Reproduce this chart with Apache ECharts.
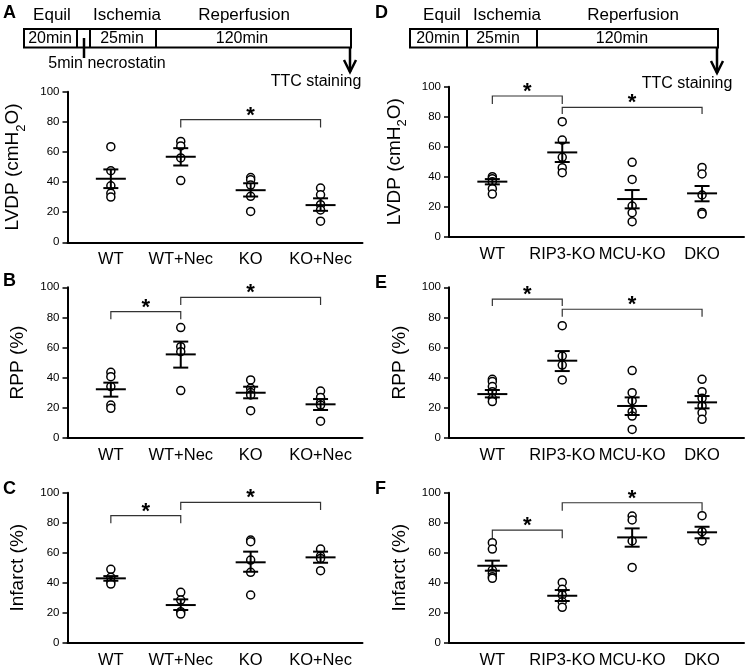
<!DOCTYPE html>
<html>
<head>
<meta charset="utf-8">
<script src="https://cdn.jsdelivr.net/npm/echarts@6/dist/echarts.min.js"></script>
<style>html,body{margin:0;padding:0;background:#fff;}#c{width:750px;height:671px;}</style>
</head>
<body>
<div id="c"></div>
<script>
// ---------- DATA ----------
const catsLeft = ['WT', 'WT+Nec', 'KO', 'KO+Nec'];
const catsRight = ['WT', 'RIP3-KO', 'MCU-KO', 'DKO'];
const yTicks = [0, 20, 40, 60, 80, 100];

// Panel A: LVDP (left)
const lvdpLeftPoints = [[63.5, 47.5, 37.5, 32.5, 30], [67, 64, 56, 41], [43, 41.5, 38, 30.5, 20.5], [36, 31.5, 25, 21.5, 14]];
const lvdpLeftMean = [42.2, 56.8, 34.6, 24.7];
const lvdpLeftHi = [48.4, 62.5, 39.2, 29.2];
const lvdpLeftLo = [36, 51, 30.4, 20.9];
const lvdpLeftBrackets = [[1, 3, 81.5, 76.3]];

// Panel B: RPP (left)
const rppLeftPoints = [[43.5, 40.6, 34, 21.7, 19.5], [73.2, 60.5, 57.2, 31.3], [38.4, 32.8, 30, 28.4, 18], [31, 26.8, 23.3, 21.7, 11]];
const rppLeftMean = [32.2, 55.4, 29.9, 22.2];
const rppLeftHi = [36.6, 63.9, 33.9, 25.7];
const rppLeftLo = [27.3, 46.6, 26.2, 18.4];
const rppLeftBrackets = [[0, 1, 83.8, 78.7], [1, 3, 93.3, 88.2]];

// Panel C: Infarct (left)
const infLeftPoints = [[48.9, 43.6, 40.7, 39.1], [33.6, 28.4, 20.7, 19.1], [68.4, 67.3, 55.1, 46.9, 31.8], [62.4, 57.8, 56.2, 48]];
const infLeftMean = [42.9, 25.1, 53.6, 56.9];
const infLeftHi = [44.4, 28.9, 60.7, 60.7];
const infLeftLo = [41.3, 21.8, 47.3, 53.3];
const infLeftBrackets = [[0, 1, 84.7, 79.6], [1, 3, 93.6, 88.4]];

// Panel D: LVDP (right)
const lvdpRightPoints = [[40, 38.7, 36.7, 32, 28.4], [76.7, 64.4, 52.9, 46, 42.7], [49.6, 38.2, 20.4, 16, 10], [46.2, 41.8, 27.8, 16.2, 15.1]];
const lvdpRightMean = [36.7, 56.2, 25.1, 28.9];
const lvdpRightHi = [38.4, 62.7, 31.1, 33.8];
const lvdpRightLo = [34.9, 49.8, 18.9, 23.6];
const lvdpRightBrackets = [[0, 1, 93.8, 88.4], [1, 3, 86.2, 81.8]];

// Panel E: RPP (right)
const rppRightPoints = [[38.8, 37.3, 34, 30.6, 26.2, 24], [74.5, 54.3, 48.3, 38.4], [44.6, 29.9, 24.6, 17.3, 14.4, 5.5], [38.8, 30.6, 26.2, 21.1, 16.6, 12.2]];
const rppRightMean = [29, 51.2, 21.1, 23.5];
const rppRightHi = [31.7, 57.6, 26.8, 27.7];
const rppRightLo = [26.8, 44.3, 15.1, 19.5];
const rppRightBrackets = [[0, 1, 92.2, 87.6], [1, 3, 85.4, 80.5]];

// Panel F: Infarct (right)
const infRightPoints = [[66.7, 62.4, 48.4, 46.2, 44, 42.9], [40.2, 35.6, 31.8, 27.3, 23.6], [84.4, 81.8, 67.8, 50.2], [84.7, 74, 67.8]];
const infRightMean = [51.3, 31.3, 70.2, 73.6];
const infRightHi = [54.7, 35.1, 76.2, 77.3];
const infRightLo = [48, 27.8, 64, 69.6];
const infRightBrackets = [[0, 1, 75.1, 69.6], [1, 3, 93.3, 88]];

// ---------- CHART ----------
const FONT = '"Liberation Sans", Arial, sans-serif';
const grids = [], xAxes = [], yAxes = [], series = [];

function addPanel(pos, cats, yName, points, mean, hi, lo, brackets) {
  const gi = grids.length;
  grids.push({ left: pos.left, top: pos.top, width: pos.width, height: pos.height, containLabel: false });
  xAxes.push({
    gridIndex: gi, type: 'value', min: -0.62, max: 3.6,
    axisLine: { show: true, onZero: false, lineStyle: { color: '#000', width: 2 } },
    axisTick: { show: false }, splitLine: { show: false },
    axisLabel: { customValues: [0, 1, 2, 3], formatter: v => cats[Math.round(v)], fontSize: 16.5, color: '#000', margin: 9, fontFamily: FONT }
  });
  yAxes.push({
    gridIndex: gi, type: 'value', min: yTicks[0], max: yTicks[yTicks.length - 1], interval: 20,
    axisLine: { show: true, onZero: false, lineStyle: { color: '#000', width: 2 } },
    axisTick: { show: true, length: 5, lineStyle: { color: '#000', width: 1.5 } },
    splitLine: { show: false },
    axisLabel: { fontSize: 11.5, color: '#000', margin: 8, fontFamily: FONT },
    name: yName, nameLocation: 'middle', nameGap: 40,
    nameTextStyle: {
      fontSize: 19, color: '#000', fontFamily: FONT,
      rich: {
        n: { fontSize: 19, color: '#000', fontFamily: FONT, lineHeight: 24, verticalAlign: 'top' },
        s: { fontSize: 13, color: '#000', fontFamily: FONT, lineHeight: 24, verticalAlign: 'bottom' }
      }
    }
  });
  const pts = [];
  points.forEach((arr, i) => arr.forEach(v => pts.push([i, v])));
  series.push({
    type: 'scatter', xAxisIndex: gi, yAxisIndex: gi, data: pts, symbol: 'circle', symbolSize: 8,
    itemStyle: { color: '#fff', borderColor: '#000', borderWidth: 1.5, opacity: 1 }, z: 2, silent: true
  });
  series.push({
    type: 'custom', xAxisIndex: gi, yAxisIndex: gi, z: 3, silent: true,
    data: mean.map((m, i) => [i, m, hi[i], lo[i]]),
    renderItem: function (params, api) {
      const x = api.value(0);
      const pm = api.coord([x, api.value(1)]);
      const ph = api.coord([x, api.value(2)]);
      const pl = api.coord([x, api.value(3)]);
      const st = { stroke: '#000', lineWidth: 2 };
      return {
        type: 'group', children: [
          { type: 'line', shape: { x1: pm[0] - 15, y1: pm[1], x2: pm[0] + 15, y2: pm[1] }, style: st },
          { type: 'line', shape: { x1: ph[0], y1: ph[1], x2: pl[0], y2: pl[1] }, style: st },
          { type: 'line', shape: { x1: ph[0] - 7.5, y1: ph[1], x2: ph[0] + 7.5, y2: ph[1] }, style: st },
          { type: 'line', shape: { x1: pl[0] - 7.5, y1: pl[1], x2: pl[0] + 7.5, y2: pl[1] }, style: st }
        ]
      };
    }
  });
  series.push({
    type: 'custom', xAxisIndex: gi, yAxisIndex: gi, z: 4, silent: true,
    data: brackets,
    renderItem: function (params, api) {
      const a = api.coord([api.value(0), api.value(2)]);
      const b = api.coord([api.value(1), api.value(2)]);
      const a2 = api.coord([api.value(0), api.value(3)]);
      const b2 = api.coord([api.value(1), api.value(3)]);
      return {
        type: 'group', children: [
          { type: 'polyline', shape: { points: [a2, a, b, b2] }, style: { stroke: '#333', lineWidth: 1.2, fill: null } },
          { type: 'text', style: { text: '*', x: (a[0] + b[0]) / 2, y: a[1] - 4, fill: '#000', font: 'bold 22px ' + FONT, align: 'center', verticalAlign: 'middle' } }
        ]
      };
    }
  });
}

addPanel({ left: 67.5, top: 91.7, width: 295, height: 150.6 }, catsLeft, '{n|LVDP (cmH}{s|2}{n|O)}', lvdpLeftPoints, lvdpLeftMean, lvdpLeftHi, lvdpLeftLo, lvdpLeftBrackets);
addPanel({ left: 67.5, top: 287.3, width: 295, height: 150.4 }, catsLeft, 'RPP (%)', rppLeftPoints, rppLeftMean, rppLeftHi, rppLeftLo, rppLeftBrackets);
addPanel({ left: 67.5, top: 492.7, width: 295, height: 150 }, catsLeft, 'Infarct (%)', infLeftPoints, infLeftMean, infLeftHi, infLeftLo, infLeftBrackets);
addPanel({ left: 449, top: 86.7, width: 295, height: 150 }, catsRight, '{n|LVDP (cmH}{s|2}{n|O)}', lvdpRightPoints, lvdpRightMean, lvdpRightHi, lvdpRightLo, lvdpRightBrackets);
addPanel({ left: 449, top: 287.3, width: 295, height: 150.4 }, catsRight, 'RPP (%)', rppRightPoints, rppRightMean, rppRightHi, rppRightLo, rppRightBrackets);
addPanel({ left: 449, top: 492.7, width: 295, height: 150 }, catsRight, 'Infarct (%)', infRightPoints, infRightMean, infRightHi, infRightLo, infRightBrackets);

// ---------- Annotations (timeline diagrams, panel letters) ----------
function txt(t, x, y, size, bold, align) {
  return { type: 'text', x: x, y: y, silent: true, style: { text: t, fill: '#000', font: (bold ? 'bold ' : '') + size + 'px ' + FONT, align: align || 'center', verticalAlign: 'middle' } };
}
function ln(x1, y1, x2, y2, w) {
  return { type: 'line', silent: true, shape: { x1, y1, x2, y2 }, style: { stroke: '#000', lineWidth: w || 2 } };
}
function rectBox(x, y, w, h) {
  return { type: 'rect', silent: true, shape: { x, y, width: w, height: h }, style: { fill: null, stroke: '#000', lineWidth: 2 } };
}
function arrow(x, y1, y2) {
  return [ln(x, y1, x, y2, 2.5), { type: 'polyline', silent: true, shape: { points: [[x - 6, y2 - 12], [x, y2], [x + 6, y2 - 12]] }, style: { stroke: '#000', lineWidth: 2.5, fill: null } }];
}
const graphics = [
  txt('A', 3, 13, 18, true, 'left'), txt('B', 3, 281, 18, true, 'left'), txt('C', 3, 489, 18, true, 'left'),
  txt('D', 375, 13, 18, true, 'left'), txt('E', 375, 283, 18, true, 'left'), txt('F', 375, 489, 18, true, 'left'),
  txt('Equil', 52, 15, 17), txt('Ischemia', 127, 15, 17), txt('Reperfusion', 244, 15, 17),
  rectBox(24, 29, 327, 18.5),
  ln(77, 29, 77, 47.5), ln(90, 29, 90, 47.5), ln(156, 29, 156, 47.5),
  ln(84, 38, 84, 58, 2.5),
  txt('20min', 50, 38.5, 16), txt('25min', 122, 38.5, 16), txt('120min', 242, 38.5, 16),
  txt('5min necrostatin', 107, 64, 16),
  ...arrow(350, 47.5, 72),
  txt('TTC staining', 316, 82, 16),
  txt('Equil', 442, 15, 17), txt('Ischemia', 507, 15, 17), txt('Reperfusion', 633, 15, 17),
  rectBox(410, 29, 308, 18.5),
  ln(467, 29, 467, 47.5), ln(537, 29, 537, 47.5),
  txt('20min', 438, 38.5, 16), txt('25min', 498, 38.5, 16), txt('120min', 622, 38.5, 16),
  ...arrow(717, 47.5, 73),
  txt('TTC staining', 687, 84, 16)
];

const chart = echarts.init(document.getElementById('c'), null, { renderer: 'canvas' });
chart.setOption({
  animation: false,
  backgroundColor: '#fff',
  textStyle: { fontFamily: FONT },
  grid: grids, xAxis: xAxes, yAxis: yAxes, series: series,
  graphic: graphics
});
</script>
</body>
</html>
